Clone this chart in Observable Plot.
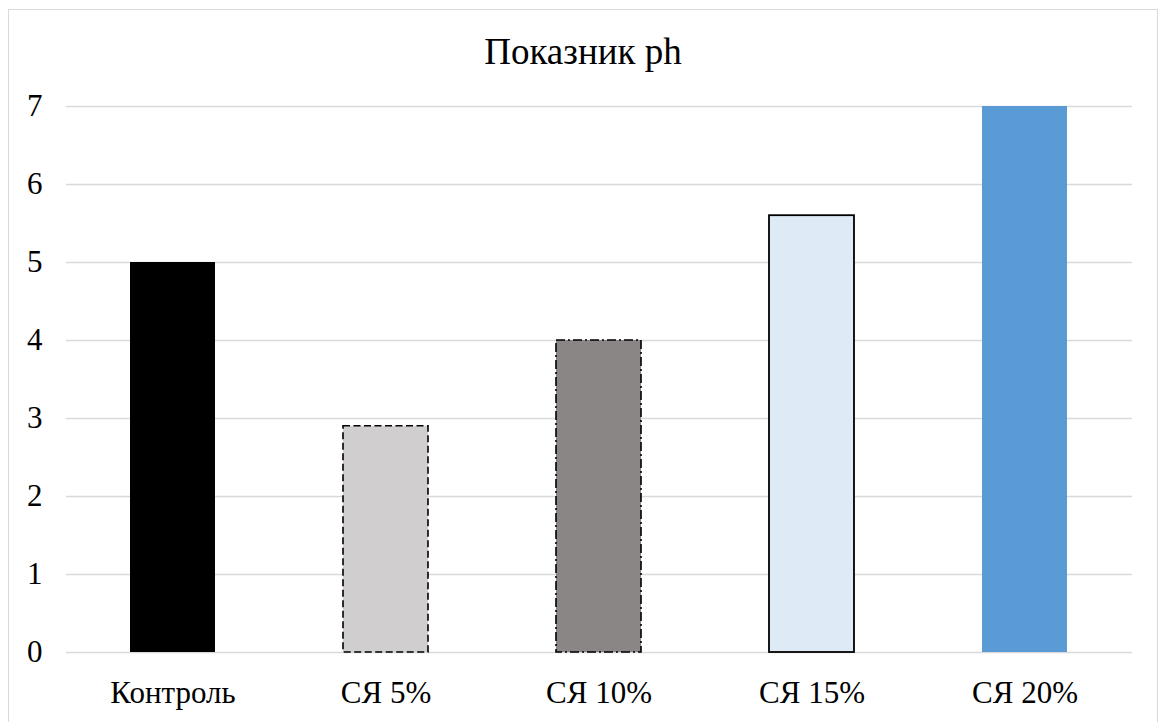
<!DOCTYPE html>
<html>
<head>
<meta charset="utf-8">
<script src="https://cdn.jsdelivr.net/npm/d3@7"></script>
<script src="https://cdn.jsdelivr.net/npm/@observablehq/plot@0.6"></script>
<style>
  html, body { margin: 0; padding: 0; background: #fff; }
  body { width: 1160px; height: 722px; overflow: hidden; position: relative; }
  #frame {
    position: absolute; left: 8px; top: 9px; width: 1148px; height: 730px;
    border: 1px solid #d9d9d9; box-sizing: content-box; background: #fff;
  }
  #title {
    height: 70px; line-height: 84px; text-align: center;
    font-family: "Liberation Serif", "Times New Roman", serif; font-size: 37px; color: #000;
  }
  #chart svg { display: block; }
  #chart svg text { font-family: "Liberation Serif", "Times New Roman", serif; }
</style>
</head>
<body>
<div id="frame">
  <div id="title">Показник ph</div>
  <div id="chart"></div>
</div>
<script>
// Categories and pH values
const categories = ["Контроль", "СЯ 5%", "СЯ 10%", "СЯ 15%", "СЯ 20%"];
const values = [5.0, 2.9, 4.0, 5.6, 7.0];
const yTicks = [0, 1, 2, 3, 4, 5, 6, 7];

// Bar fill colours, one per category
const fillColors = ["#000000", "#d0cece", "#8b8686", "#deebf7", "#5b9bd5"];

const rows = categories.map((c, i) => ({category: c, value: values[i]}));
const only = (name) => rows.filter((d) => d.category === name);

const font = '"Liberation Serif", "Times New Roman", serif';

const chart = Plot.plot({
  width: 1148,
  height: 642,
  marginTop: 26,
  marginBottom: 70,
  marginLeft: 57,
  marginRight: 25,
  style: {fontFamily: font, fontSize: "31px", color: "#000", background: "#fff"},
  x: {domain: categories, paddingInner: 0.6, paddingOuter: 0.3, label: null},
  y: {domain: [0, 7], label: null},
  color: {domain: categories, range: fillColors},
  marks: [
    Plot.gridY(yTicks, {stroke: "#d9d9d9", strokeOpacity: 1, strokeWidth: 1.4}),
    Plot.axisY(yTicks, {tickSize: 0, tickPadding: 24, tickFormat: "d", label: null,
      fontSize: 31, fontFamily: font}),
    Plot.axisX({tickSize: 0, tickPadding: 28, label: null, fontSize: 31, fontFamily: font}),
    // solid bars without outline
    Plot.barY(rows.filter((d) => d.category === "Контроль" || d.category === "СЯ 20%"),
      {x: "category", y: "value", fill: "category"}),
    // dashed outline
    Plot.barY(only("СЯ 5%"),
      {x: "category", y: "value", fill: "category", stroke: "#000", strokeWidth: 1.6, strokeDasharray: "7,3.5"}),
    // dash-dot outline
    Plot.barY(only("СЯ 10%"),
      {x: "category", y: "value", fill: "category", stroke: "#000", strokeWidth: 1.6, strokeDasharray: "9,3,2,3"}),
    // solid outline
    Plot.barY(only("СЯ 15%"),
      {x: "category", y: "value", fill: "category", stroke: "#000", strokeWidth: 1.8})
  ]
});

document.getElementById("chart").appendChild(chart);
</script>
</body>
</html>
